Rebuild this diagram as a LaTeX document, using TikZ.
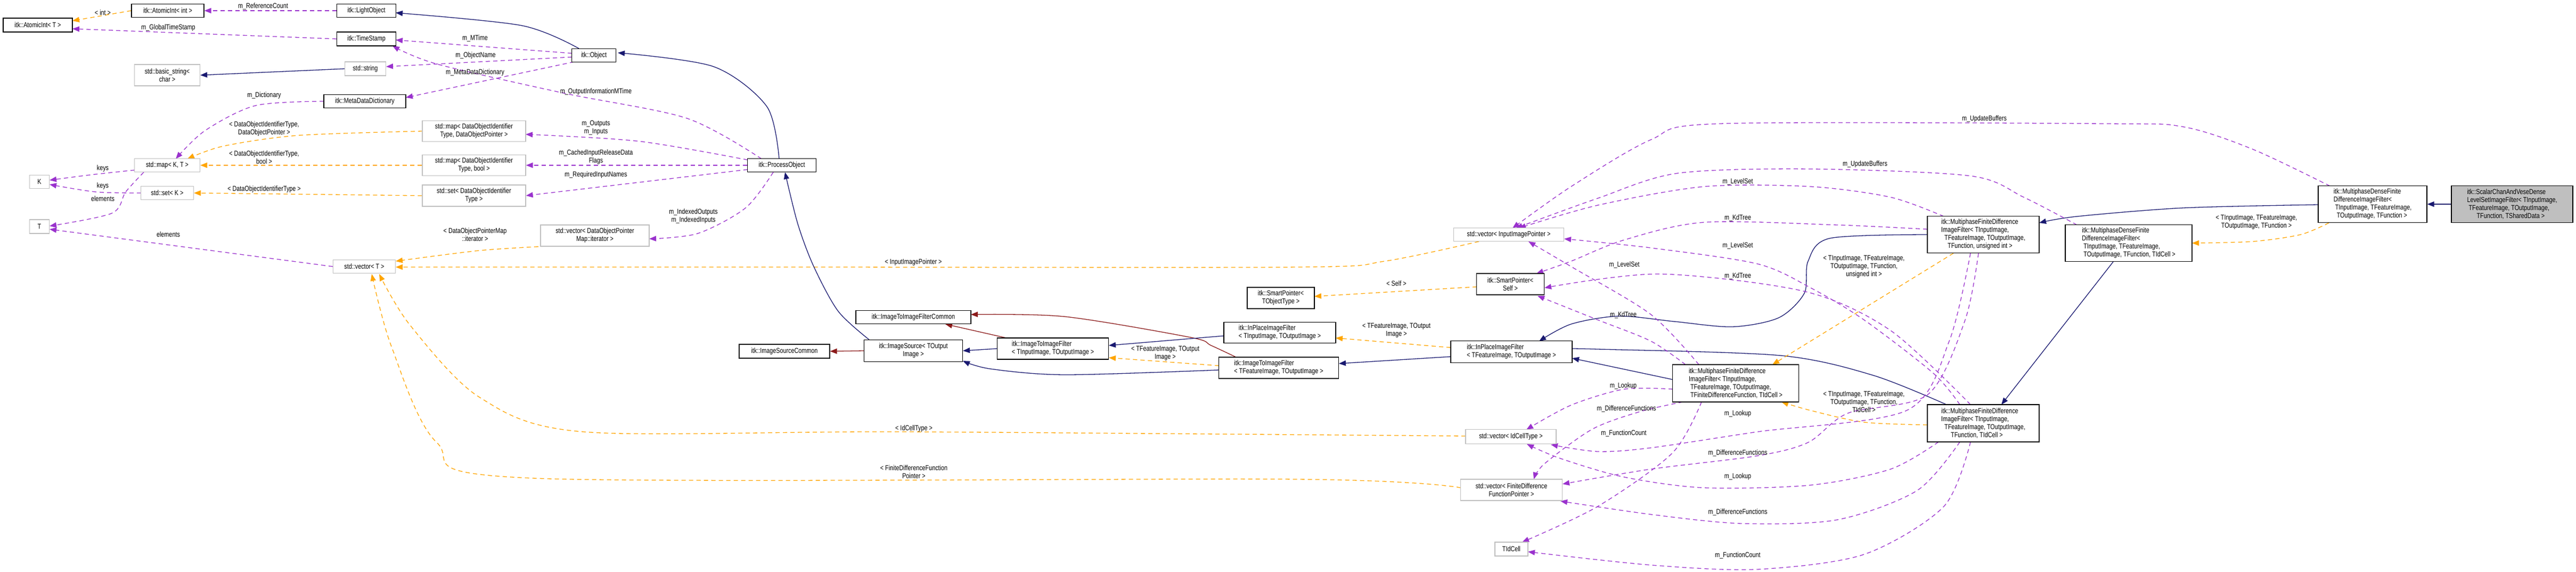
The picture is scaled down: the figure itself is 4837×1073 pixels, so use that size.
\documentclass[tikz,border=0pt]{standalone}
\usepackage{fontspec}
\setmainfont[FakeStretch=0.8]{Liberation Sans}
\usetikzlibrary{arrows.meta,backgrounds}
\definecolor{cuse}{HTML}{9A32CD}
\definecolor{ctpl}{HTML}{FFA500}
\definecolor{cinh}{HTML}{191970}
\definecolor{cpro}{HTML}{8B1A1A}
\definecolor{cgray}{HTML}{BFBFBF}
\tikzset{
 box/.style={draw=black,line width=1.2pt,fill=white,inner sep=2pt,align=center,font=\fontsize{13.5}{15}\selectfont},
 gbox/.style={box,draw=cgray},
 lbox/.style={box,align=left},
 lab/.style={inner sep=0pt,align=center,font=\fontsize{13.5}{15}\selectfont},
 tip/.style={-{Triangle[length=13pt,width=10pt]}},
 use/.style={tip,draw=cuse,line width=1.3pt,dash pattern=on 8pt off 6pt},
 tpl/.style={tip,draw=ctpl,line width=1.3pt,dash pattern=on 8pt off 6pt},
 inh/.style={tip,draw=cinh,line width=1.3pt},
 pro/.style={tip,draw=cpro,line width=1.3pt},
}
\newcommand{\bx}[6]{\node[#1,minimum width=#4pt,minimum height=#5pt] (#2) at (#3) {#6};}
\begin{document}
\begin{tikzpicture}[x=1pt,y=-1pt]
\useasboundingbox (0,0) rectangle (4837,1073);
% ---------- nodes ----------
\bx{box}{ai_T}{71,47}{130}{26}{itk::AtomicInt< T >}
\bx{box}{ai_int}{315,20}{136}{25}{itk::AtomicInt< int >}
\bx{box}{light}{688,20}{111}{25}{itk::LightObject}
\bx{box}{ts}{688,73}{111}{26}{itk::TimeStamp}
\bx{gbox}{str}{686,129}{77}{26}{std::string}
\bx{gbox}{bstr}{314,141}{123}{40}{std::basic\_string<\\char >}
\bx{box}{obj}{1115,104}{83}{25}{itk::Object}
\bx{box}{mdd}{685,190}{154}{25}{itk::MetaDataDictionary}
\bx{gbox}{mapDP}{890,246}{194}{39}{std::map< DataObjectIdentifier\\Type, DataObjectPointer >}
\bx{gbox}{mapKT}{314,310}{123}{25}{std::map< K, T >}
\bx{gbox}{mapB}{890,310}{194}{39}{std::map< DataObjectIdentifier\\Type, bool >}
\bx{box}{po}{1468,310}{129}{25}{itk::ProcessObject}
\bx{gbox}{K}{74,341}{37}{25}{K}
\bx{gbox}{setK}{314,362}{99}{25}{std::set< K >}
\bx{gbox}{setD}{890,367}{194}{40}{std::set< DataObjectIdentifier\\Type >}
\bx{gbox}{T}{74,425}{37}{26}{T}
\bx{gbox}{vDPM}{1117,442}{204}{40}{std::vector< DataObjectPointer\\Map::iterator >}
\bx{gbox}{vT}{684,500}{117}{25}{std::vector< T >}
\bx{gbox}{vIIP}{2833,440}{207}{25}{std::vector< InputImagePointer >}
\bx{box}{spS}{2836,533}{127}{40}{itk::SmartPointer<\\Self >}
\bx{box}{spT}{2405,559}{126}{40}{itk::SmartPointer<\\TObjectType >}
\bx{box}{i2iC}{1715,595}{216}{25}{itk::ImageToImageFilterCommon}
\bx{lbox}{ipI}{2403,624}{210}{39}{itk::InPlaceImageFilter\\< TInputImage, TOutputImage >}
\bx{box}{isC}{1473,659}{170}{26}{itk::ImageSourceCommon}
\bx{box}{is}{1715,658}{185}{41}{itk::ImageSource< TOutput\\Image >}
\bx{lbox}{i2iI}{1977,654}{209}{40}{itk::ImageToImageFilter\\< TInputImage, TOutputImage >}
\bx{lbox}{ipF}{2838,660}{228}{41}{itk::InPlaceImageFilter\\< TFeatureImage, TOutputImage >}
\bx{lbox}{i2iF}{2401,690}{225}{40}{itk::ImageToImageFilter\\< TFeatureImage, TOutputImage >}
\bx{lbox}{mfU}{3724,440}{210}{69}{itk::MultiphaseFiniteDifference\\ImageFilter< TInputImage,\\\ \ TFeatureImage, TOutputImage,\\\ \ \ \ TFunction, unsigned int >}
\bx{lbox}{mdF}{4455,383}{204}{69}{itk::MultiphaseDenseFinite\\DifferenceImageFilter<\\\ TInputImage, TFeatureImage,\\\ \ TOutputImage, TFunction >}
\node[lbox,fill=cgray,minimum width=228pt,minimum height=69pt] (scv) at (4717,383) {itk::ScalarChanAndVeseDense\\LevelSetImageFilter< TInputImage,\\\ TFeatureImage, TOutputImage,\\\ \ \ \ \ \ TFunction, TSharedData >};
\bx{lbox}{mdI}{3997,456}{238}{69}{itk::MultiphaseDenseFinite\\DifferenceImageFilter<\\\ TInputImage, TFeatureImage,\\\ TOutputImage, TFunction, TIdCell >}
\bx{lbox}{mfT}{3259,719}{237}{70}{itk::MultiphaseFiniteDifference\\ImageFilter< TInputImage,\\\ TFeatureImage, TOutputImage,\\\ TFiniteDifferenceFunction, TIdCell >}
\bx{lbox}{mfI}{3724,794}{210}{70}{itk::MultiphaseFiniteDifference\\ImageFilter< TInputImage,\\\ \ TFeatureImage, TOutputImage,\\\ \ \ \ \ \ TFunction, TIdCell >}
\bx{gbox}{vIC}{2837,819}{170}{27}{std::vector< IdCellType >}
\bx{gbox}{vFD}{2838,919}{191}{40}{std::vector< FiniteDifference\\FunctionPointer >}
\bx{gbox}{tid}{2838,1030}{62}{26}{TIdCell}
% ---------- edges ----------
\begin{scope}[on background layer]
\draw[use] (light.west) -- (ai_int.east);
\draw[use] (ts.west) -- (136,54);
\draw[tpl] (ai_int.west) -- (136,39);
\draw[inh] plot[smooth] coordinates {(1087,91) (980,48) (743,24)};
\draw[use] (1074,100) -- (743,75);
\draw[use] (1074,107) -- (725,125);
\draw[use] (1078,116) -- (762,183);
\draw[inh] (str.west) -- (bstr.east);
\draw[use] plot[smooth] coordinates {(1430,298) (1290,222) (1060,175) (820,120) (737,86)};
\draw[use] plot[smooth] coordinates {(608,190) (480,198) (385,245) (330,298)};
\draw[tpl] plot[smooth] coordinates {(793,246) (560,254) (420,274) (352,298)};
\draw[tpl] (mapB.west) -- (mapKT.east);
\draw[tpl] (setD.west) -- (setK.east);
\draw[use] plot[smooth] coordinates {(253,319) (170,328) (93,338)};
\draw[use] plot[smooth] coordinates {(265,362) (180,360) (93,346)};
\draw[use] plot[smooth] coordinates {(270,323) (236,360) (210,400) (93,424)};
\draw[use] (vT.west) -- (93,430);
\draw[tpl] plot[smooth] coordinates {(1025,462) (900,470) (743,490)};
\draw[tpl] plot[smooth] coordinates {(2777,453) (2600,490) (2437,501) (1500,501) (743,501)};
\draw[tpl] plot[smooth] coordinates {(2752,818) (1700,810) (1095,810) (900,745) (770,610) (712,514)};
\draw[tpl] plot[smooth] coordinates {(2743,915) (2437,899) (1000,897) (820,830) (735,650) (698,514)};
\draw[use] plot[smooth] coordinates {(1404,300) (1200,265) (987,252)};
\draw[use] (po.west) -- (mapB.east);
\draw[use] (1404,318) -- (setD.east);
\draw[use] plot[smooth] coordinates {(1452,323) (1400,390) (1310,438) (1219,448)};
\draw[inh] plot[smooth] coordinates {(1463,298) (1440,200) (1340,125) (1160,99)};
\draw[inh] plot[smooth] coordinates {(1633,638) (1574,584) (1528,500) (1498,420) (1474,323)};
\draw[pro] (is.west) -- (isC.east);
\draw[inh] (i2iI.west) -- (is.east);
\draw[pro] (1890,634) -- (1775,608);
\draw[pro] plot[smooth] coordinates {(2321,670) (2274,648) (2236,633) (2000,594) (1823,590)};
\draw[inh] plot[smooth] coordinates {(2289,694) (2000,703) (1860,692) (1808,677)};
\draw[inh] (2298,630) -- (2082,648);
\draw[tpl] (2289,686) -- (2082,671);
\draw[inh] (2724,669) -- (2514,682);
\draw[tpl] (2724,652) -- (2508,634);
\draw[tpl] (2773,538) -- (2468,556);
\draw[inh] plot[smooth] coordinates {(3619,440) (3436,447) (3395,490) (3388,550) (3340,596) (3253,613) (3143,603) (3040,593) (2950,608) (2890,640)};
\draw[inh] (3141,712) -- (2952,672);
\draw[inh] plot[smooth] coordinates {(3655,759) (3517,704) (3344,667) (3000,655) (2952,655)};
\draw[inh] plot[smooth] coordinates {(4353,384) (4100,390) (3900,406) (3829,418)};
\draw[tpl] plot[smooth] coordinates {(4373,418) (4320,440) (4230,453) (4116,456)};
\draw[inh] (scv.west) -- (mdF.east);
\draw[inh] (3968,491) -- (3758,759);
\draw[tpl] (3668,475) -- (3328,684);
\draw[tpl] plot[smooth] coordinates {(3619,797) (3500,792) (3400,770) (3345,754)};
\draw[use] plot[smooth] coordinates {(4375,349) (4230,280) (4100,238) (3950,232) (3230,232) (3100,262) (2950,350) (2840,428)};
\draw[use] plot[smooth] coordinates {(3900,422) (3800,370) (3700,330) (3400,317) (3150,325) (3000,372) (2846,428)};
\draw[use] plot[smooth] coordinates {(3650,406) (3550,370) (3400,350) (3200,350) (3000,385) (2852,428)};
\draw[use] plot[smooth] coordinates {(3190,684) (3100,590) (2950,500) (2870,453)};
\draw[use] plot[smooth] coordinates {(3680,759) (3630,700) (3500,600) (3400,540) (3300,495) (3100,465) (2937,448)};
\draw[use] plot[smooth] coordinates {(3619,430) (3450,422) (3200,417) (3050,450) (2950,490) (2885,513)};
\draw[use] plot[smooth] coordinates {(3165,684) (3100,640) (3000,600) (2887,555)};
\draw[use] plot[smooth] coordinates {(3700,759) (3550,620) (3390,547) (3116,514) (2900,540)};
\draw[use] plot[smooth] coordinates {(3141,730) (3050,730) (2950,760) (2866,806)};
\draw[use] plot[smooth] coordinates {(3160,754) (3080,772) (2990,805) (2900,870) (2880,899)};
\draw[use] plot[smooth] coordinates {(3195,754) (3140,850) (3000,950) (2858,1017)};
\draw[use] plot[smooth] coordinates {(3700,475) (3660,640) (3580,770) (3300,810) (3100,840) (3000,847) (2912,834)};
\draw[use] plot[smooth] coordinates {(3715,475) (3690,600) (3620,740) (3470,775) (3395,830) (3300,855) (3100,880) (2934,908)};
\draw[use] plot[smooth] coordinates {(3640,829) (3550,880) (3400,910) (3200,915) (3050,895) (2930,860) (2867,833)};
\draw[use] plot[smooth] coordinates {(3680,829) (3600,920) (3450,975) (3270,982) (3100,965) (2930,940)};
\draw[use] plot[smooth] coordinates {(3700,829) (3650,950) (3500,1040) (3300,1068) (3100,1060) (2869,1035)};
\end{scope}
% ---------- labels ----------
\node[lab] (l1) at (494,12) {m\_ReferenceCount};
\node[lab] (l2) at (193,24) {< int >};
\node[lab] (l3) at (316,52) {m\_GlobalTimeStamp};
\node[lab] (l4) at (892,72) {m\_MTime};
\node[lab] (l5) at (893,104) {m\_ObjectName};
\node[lab] (l6) at (892,136) {m\_MetaDataDictionary};
\node[lab] (l7) at (496,179) {m\_Dictionary};
\node[lab] (l8) at (496,242) {< DataObjectIdentifierType,\\DataObjectPointer >};
\node[lab] (l9) at (496,295) {< DataObjectIdentifierType,\\bool >};
\node[lab] (l10) at (193,316) {keys};
\node[lab] (l11) at (193,349) {keys};
\node[lab] (l12) at (193,373) {elements};
\node[lab] (l13) at (496,355) {< DataObjectIdentifierType >};
\node[lab] (l14) at (316,440) {elements};
\node[lab] (l15) at (892,440) {< DataObjectPointerMap\\::iterator >};
\node[lab] (l16) at (1119,172) {m\_OutputInformationMTime};
\node[lab] (l17) at (1119,240) {m\_Outputs\\m\_Inputs};
\node[lab] (l18) at (1119,295) {m\_CachedInputReleaseData\\Flags};
\node[lab] (l19) at (1119,328) {m\_RequiredInputNames};
\node[lab] (l20) at (1302,406) {m\_IndexedOutputs\\m\_IndexedInputs};
\node[lab] (l21) at (1715,492) {< InputImagePointer >};
\node[lab] (l22) at (1716,804) {< IdCellType >};
\node[lab] (l23) at (1716,885) {< FiniteDifferenceFunction\\Pointer >};
\node[lab] (l24) at (2622,532) {< Self >};
\node[lab] (l25) at (2622,620) {< TFeatureImage, TOutput\\Image >};
\node[lab] (l26) at (2188,663) {< TFeatureImage, TOutput\\Image >};
\node[lab] (l27) at (3726,223) {m\_UpdateBuffers};
\node[lab] (l28) at (3502,308) {m\_UpdateBuffers};
\node[lab] (l29) at (3263,341) {m\_LevelSet};
\node[lab] (l30) at (3263,409) {m\_KdTree};
\node[lab] (l31) at (3263,461) {m\_LevelSet};
\node[lab] (l32) at (3050,497) {m\_LevelSet};
\node[lab] (l33) at (3263,518) {m\_KdTree};
\node[lab] (l34) at (3048,591) {m\_KdTree};
\node[lab] (l35) at (3500,500) {< TInputImage, TFeatureImage,\\TOutputImage, TFunction,\\unsigned int >};
\node[lab] (l36) at (3048,724) {m\_Lookup};
\node[lab] (l37) at (3054,767) {m\_DifferenceFunctions};
\node[lab] (l38) at (3049,813) {m\_FunctionCount};
\node[lab] (l39) at (3263,776) {m\_Lookup};
\node[lab] (l40) at (3263,850) {m\_DifferenceFunctions};
\node[lab] (l41) at (3263,894) {m\_Lookup};
\node[lab] (l42) at (3263,961) {m\_DifferenceFunctions};
\node[lab] (l43) at (3263,1042) {m\_FunctionCount};
\node[lab] (l44) at (3500,754) {< TInputImage, TFeatureImage,\\TOutputImage, TFunction,\\TIdCell >};
\node[lab] (l45) at (4237,417) {< TInputImage, TFeatureImage,\\TOutputImage, TFunction >};
\end{tikzpicture}
\end{document}
